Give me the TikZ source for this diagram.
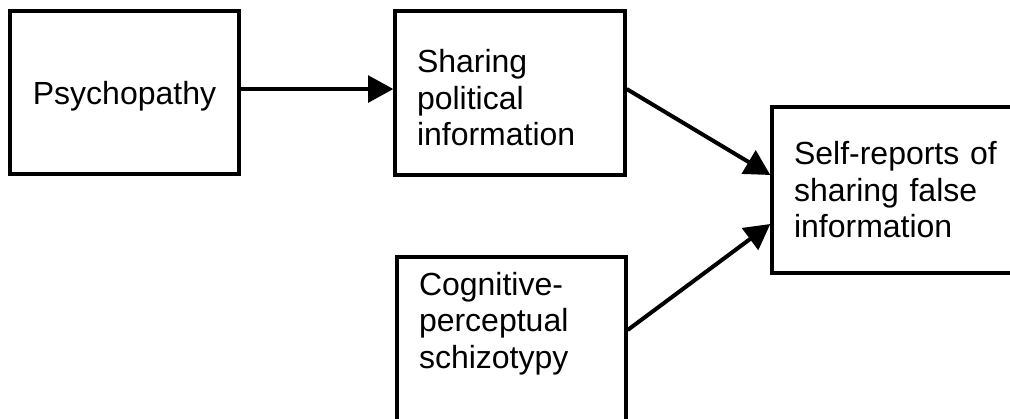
\documentclass[tikz,border=0pt]{standalone}
\usepackage{fontspec}
\setmainfont{Liberation Sans}
\usetikzlibrary{arrows.meta, positioning}

\begin{document}
\begin{tikzpicture}[x=0.75pt, y=-0.75pt,
  box/.style={draw, line width=2.5pt, inner xsep=16.5pt,
              font=\fontsize{24}{27.4}\selectfont},
  arrow/.style={line width=3pt, -{Triangle[length=19pt, width=20pt]}}]
  \useasboundingbox (0,0) rectangle (1010,418);

  % Boxes
  \node[box, minimum width=171.75pt, minimum height=122.25pt, text depth=0pt] (psy) at (124.5,92.5) {Psychopathy};
  \node[box, minimum height=123pt, text width=139.5pt, align=left] (share) at (510,93)
    {\rule{0pt}{24.75pt}Sharing\\political\\information};
  \node[box, minimum height=123pt, text width=138.75pt, align=left] (schizo) at (511.5,339)
    {Cognitive-\\perceptual\\schizotypy\rule[-28.5pt]{0pt}{0pt}};
  \node[box, minimum height=124.5pt, text width=156pt, align=left] (selfrep) at (898,190)
    {Self-reports of\\sharing false\\information};

  % Paths
  \draw[arrow] ([yshift=2.6pt]psy.east) -- ([yshift=2.6pt]psy.east -| share.west);
  \draw[arrow] ([yshift=3pt]share.east) -- ([yshift=11.25pt]selfrep.west);
  \draw[arrow] ([yshift=6.75pt]schizo.east) -- ([yshift=-25.5pt]selfrep.west);
\end{tikzpicture}
\end{document}
